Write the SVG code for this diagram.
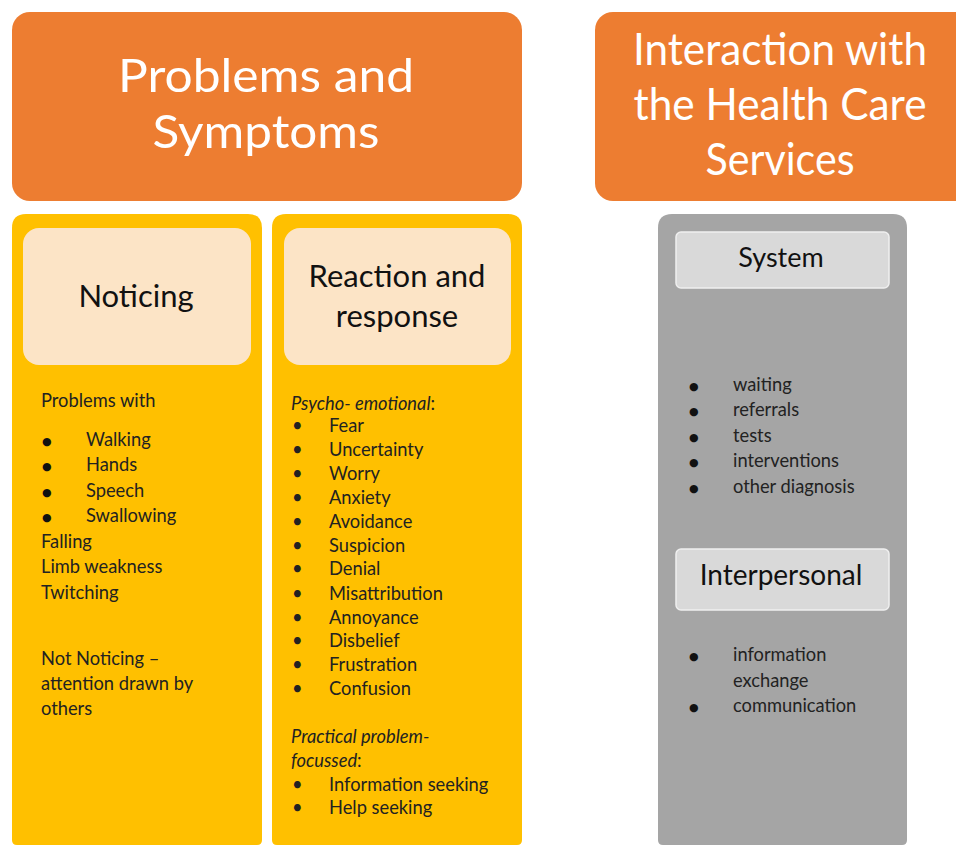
<svg xmlns="http://www.w3.org/2000/svg" width="956" height="847" viewBox="0 0 956 847">
<style>
.hdr{fill:#ED7D31}
.col{fill:#FFC000}
.inner{fill:#FCE4C6}
.gray{fill:#A5A5A5}
.gbox{fill:#D9D9D9;stroke:#EFEFEF;stroke-width:1.5}
.title{font-family:Lato,"Open Sans",sans-serif;font-size:47px;fill:#FFFFFF;text-anchor:middle}
.sub{font-family:Lato,"Open Sans",sans-serif;font-size:31px;fill:#111111;text-anchor:middle}
.t{font-family:Lato,"Open Sans",sans-serif;font-size:18.3px;fill:#222222}
.i{font-style:italic}
.b{font-family:"DejaVu Sans",sans-serif;font-size:11px;fill:#111111}
</style>
<rect width="956" height="847" fill="#FFFFFF"/>
<g id="problems-header">
<rect class="hdr" x="12" y="12" width="510" height="189" rx="18"/>
<text class="title" x="266" y="92" textLength="296" lengthAdjust="spacingAndGlyphs">Problems and</text>
<text class="title" x="266" y="148" textLength="227" lengthAdjust="spacingAndGlyphs">Symptoms</text>
</g>
<g id="interaction-header">
<rect class="hdr" x="595" y="12" width="380" height="189" rx="18"/>
<text class="title" x="780" y="65" style="font-size:44px" textLength="294" lengthAdjust="spacingAndGlyphs">Interaction with</text>
<text class="title" x="780" y="120" style="font-size:44px" textLength="293" lengthAdjust="spacingAndGlyphs">the Health Care</text>
<text class="title" x="780" y="175" style="font-size:44px" textLength="149" lengthAdjust="spacingAndGlyphs">Services</text>
</g>
<g id="noticing">
<path class="col" d="M26 214 H248 Q262 214 262 228 V840 Q262 845 257 845 H17 Q12 845 12 840 V228 Q12 214 26 214 Z"/>
<rect class="inner" x="23" y="228" width="228" height="137" rx="16"/>
<text class="sub" x="136" y="307">Noticing</text>
<text class="t" x="41" y="407">Problems with</text>
<text class="b" x="42" y="445">●</text><text class="t" x="86" y="446">Walking</text>
<text class="b" x="42" y="470">●</text><text class="t" x="86" y="471">Hands</text>
<text class="b" x="42" y="496">●</text><text class="t" x="86" y="497">Speech</text>
<text class="b" x="42" y="521">●</text><text class="t" x="86" y="522">Swallowing</text>
<text class="t" x="41" y="548">Falling</text>
<text class="t" x="41" y="573">Limb weakness</text>
<text class="t" x="41" y="599">Twitching</text>
<text class="t" x="41" y="665">Not Noticing –</text>
<text class="t" x="41" y="690">attention drawn by</text>
<text class="t" x="41" y="715">others</text>
</g>
<g id="reaction">
<path class="col" d="M286 214 H508 Q522 214 522 228 V840 Q522 845 517 845 H277 Q272 845 272 840 V228 Q272 214 286 214 Z"/>
<rect class="inner" x="284" y="228" width="227" height="137" rx="16"/>
<text class="sub" x="397" y="287">Reaction and</text>
<text class="sub" x="397" y="327">response</text>
<text class="t" x="291" y="410"><tspan class="i">Psycho- emotional</tspan>:</text>
<g class="t">
<text x="292" y="432">•</text><text x="329" y="432">Fear</text>
<text x="292" y="456">•</text><text x="329" y="456">Uncertainty</text>
<text x="292" y="480">•</text><text x="329" y="480">Worry</text>
<text x="292" y="504">•</text><text x="329" y="504">Anxiety</text>
<text x="292" y="528">•</text><text x="329" y="528">Avoidance</text>
<text x="292" y="552">•</text><text x="329" y="552">Suspicion</text>
<text x="292" y="575">•</text><text x="329" y="575">Denial</text>
<text x="292" y="600">•</text><text x="329" y="600">Misattribution</text>
<text x="292" y="624">•</text><text x="329" y="624">Annoyance</text>
<text x="292" y="647">•</text><text x="329" y="647">Disbelief</text>
<text x="292" y="671">•</text><text x="329" y="671">Frustration</text>
<text x="292" y="695">•</text><text x="329" y="695">Confusion</text>
</g>
<text class="t i" x="291" y="743">Practical problem-</text>
<text class="t" x="291" y="767"><tspan class="i">focussed</tspan>:</text>
<g class="t">
<text x="292" y="791">•</text><text x="329" y="791">Information  seeking</text>
<text x="292" y="814">•</text><text x="329" y="814">Help seeking</text>
</g>
</g>
<g id="interaction">
<path class="gray" d="M672 214 H893 Q907 214 907 228 V840 Q907 845 902 845 H663 Q658 845 658 840 V228 Q658 214 672 214 Z"/>
<g id="system">
<rect class="gbox" x="676" y="232" width="213" height="56" rx="5"/>
<text class="sub" x="781" y="267" style="font-size:27px">System</text>
</g>
<text class="b" x="689" y="390">●</text><text class="t" x="733" y="391">waiting</text>
<text class="b" x="689" y="415">●</text><text class="t" x="733" y="416">referrals</text>
<text class="b" x="689" y="441">●</text><text class="t" x="733" y="442">tests</text>
<text class="b" x="689" y="466">●</text><text class="t" x="733" y="467">interventions</text>
<text class="b" x="689" y="492">●</text><text class="t" x="733" y="493">other diagnosis</text>
<g id="interpersonal">
<rect class="gbox" x="676" y="549" width="213" height="61" rx="5"/>
<text class="sub" x="781" y="585" style="font-size:28px">Interpersonal</text>
</g>
<text class="b" x="689" y="660">●</text><text class="t" x="733" y="661">information</text>
<text class="t" x="733" y="687">exchange</text>
<text class="b" x="689" y="711">●</text><text class="t" x="733" y="712">communication</text>
</g>
<g id="connectors"></g>
</svg>
